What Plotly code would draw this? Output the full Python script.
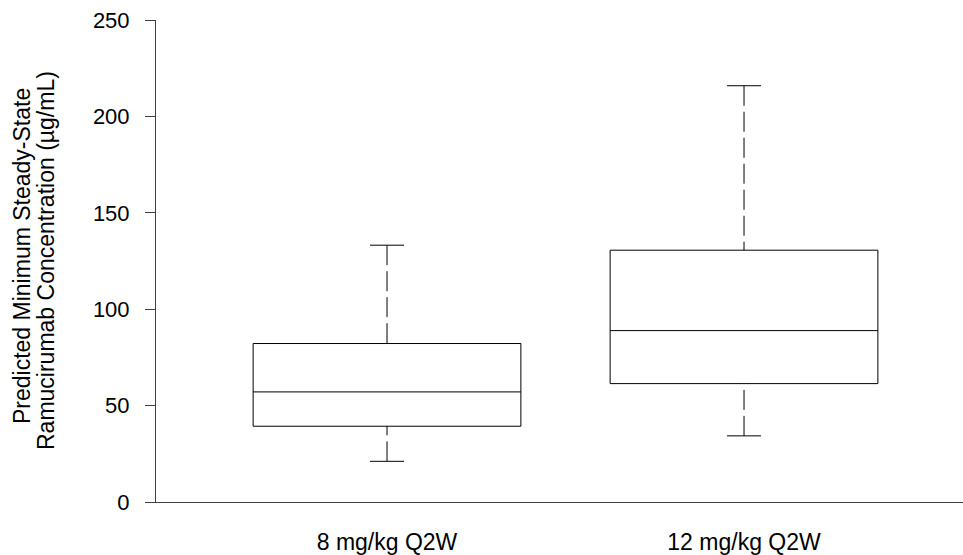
import plotly.graph_objects as go

categories = ["8 mg/kg Q2W", "12 mg/kg Q2W"]
positions = [1, 2]
q1_vals = [39.3, 61.4]
median_vals = [57.1, 88.9]
q3_vals = [82.2, 130.6]
min_vals = [21.1, 34.3]
max_vals = [133.2, 215.9]
y_ticks = [0, 50, 100, 150, 200, 250]

BOX_W = 0.75
CAP_HALF = 0.0476
FONT = "Liberation Sans, Arial, sans-serif"
AXIS_COLOR = "#404040"

fig = go.Figure()

# whiskers (dashed), drawn from cap toward box
for p, lo, q1, q3, hi in zip(positions, min_vals, q1_vals, q3_vals, max_vals):
    fig.add_trace(go.Scatter(x=[p, p], y=[hi, q3], mode="lines",
                             line=dict(color="black", width=1, dash="20px,6px"),
                             showlegend=False, hoverinfo="skip"))
    fig.add_trace(go.Scatter(x=[p, p], y=[lo, q1], mode="lines",
                             line=dict(color="black", width=1, dash="20px,6px"),
                             showlegend=False, hoverinfo="skip"))
    # caps
    fig.add_trace(go.Scatter(x=[p - CAP_HALF, p + CAP_HALF], y=[hi, hi], mode="lines",
                             line=dict(color="black", width=1),
                             showlegend=False, hoverinfo="skip"))
    fig.add_trace(go.Scatter(x=[p - CAP_HALF, p + CAP_HALF], y=[lo, lo], mode="lines",
                             line=dict(color="black", width=1),
                             showlegend=False, hoverinfo="skip"))

# boxes
fig.add_trace(go.Box(
    x=positions,
    q1=q1_vals, median=median_vals, q3=q3_vals,
    lowerfence=q1_vals, upperfence=q3_vals,
    width=BOX_W,
    line=dict(color="black", width=1),
    fillcolor="rgba(255,255,255,0)",
    whiskerwidth=0,
    showlegend=False,
    boxpoints=False,
))

fig.update_layout(
    width=963, height=555,
    margin=dict(l=156, r=0, t=20, b=53),
    plot_bgcolor="white", paper_bgcolor="white",
    font=dict(family=FONT, size=22, color="black"),
    showlegend=False,
    xaxis=dict(
        range=[0.3529, 2.6134],
        tickvals=positions, ticktext=categories,
        showline=True, linecolor=AXIS_COLOR, linewidth=1,
        ticks="", showgrid=False, zeroline=False,
        ticklabelstandoff=19, automargin=False,
        tickfont=dict(family=FONT, size=23, color="black"),
    ),
    yaxis=dict(
        range=[0, 250],
        tickvals=y_ticks,
        showline=True, linecolor=AXIS_COLOR, linewidth=1,
        ticks="outside", ticklen=10, tickcolor=AXIS_COLOR, tickwidth=1,
        showgrid=False, zeroline=False,
        ticklabelstandoff=11, automargin=False,
        tickfont=dict(family=FONT, size=22, color="black"),
    ),
    annotations=[
        dict(text="Predicted Minimum Steady-State", xref="paper", yref="paper",
             x=0, y=0.5, xanchor="center", yanchor="middle", textangle=-90,
             xshift=-134, yshift=5, showarrow=False,
             font=dict(family=FONT, size=23, color="black")),
        dict(text="Ramucirumab Concentration (µg/mL)", xref="paper", yref="paper",
             x=0, y=0.5, xanchor="center", yanchor="middle", textangle=-90,
             xshift=-110, yshift=0, showarrow=False,
             font=dict(family=FONT, size=23, color="black")),
    ],
)

fig.write_html(
    "out.html",
    config={"displayModeBar": False},
    post_script="document.body.style.margin='0';document.body.style.overflow='hidden';",
)
